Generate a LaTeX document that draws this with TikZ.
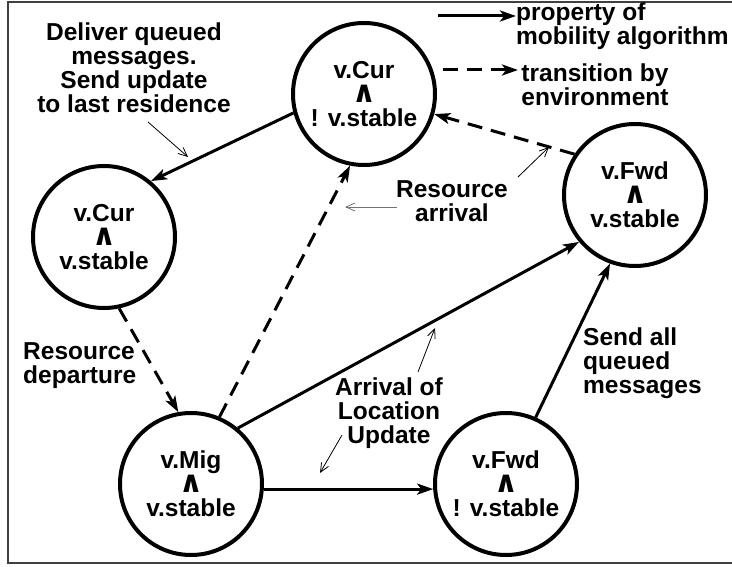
\documentclass[tikz,border=0pt]{standalone}
\usepackage{fontspec}
\setmainfont{Liberation Sans}
\newfontfamily\symfont{DejaVu Sans}
\usetikzlibrary{arrows.meta}
\newcommand\labfont{\bfseries\fontsize{24.5}{24}\selectfont}
\newcommand\andsym{{\symfont\bfseries\fontsize{30}{24}\selectfont ∧}}
\begin{document}
\begin{tikzpicture}[x=1pt,y=-1pt,
  every node/.style={font=\labfont, inner sep=0pt},
  state/.style={circle, draw, line width=4pt, minimum size=142pt, align=center},
  trans/.style={line width=3pt, -{Stealth[length=16pt,width=11pt,inset=4pt]}},
  envtrans/.style={trans, dash pattern=on 15pt off 9pt},
  note/.style={line width=0.8pt, -{Straight Barb[length=9pt,width=8pt]}},
  lblc/.style={align=center, anchor=base},
  lbll/.style={align=left, anchor=base west},
]
\useasboundingbox (0,0) rectangle (732,567);
\draw[line width=1.2pt, black!75] (732,2) -- (8,2) -- (8,563) -- (732,563);

% states
\node[state] (A) at (364,94) {v.Cur\\\andsym\\! v.stable};
\node[state] (B) at (104,237) {v.Cur\\\andsym\\v.stable};
\node[state] (C) at (635,195) {v.Fwd\\\andsym\\v.stable};
\node[state] (D) at (191,484) {v.Mig\\\andsym\\v.stable};
\node[state] (E) at (506,484) {v.Fwd\\\andsym\\! v.stable};

% transitions
\draw[trans] (A.195) -- (B.50);
\draw[envtrans] (B.282) -- (D.100);
\draw[envtrans] (D.67) -- (A.259);
\draw[envtrans] (C.146) -- (A.344);
\draw[trans] (D.50) -- (C.220);
\draw[trans] (D.-4) -- (E.184);
\draw[trans] (E.66) -- (C.250);

% labels (base anchor = last line's baseline)
\node[lblc] (deliver) at (134,113) {Deliver queued\\messages.\\Send update\\to last residence};
\node[lblc] (resarr) at (452,222) {Resource\\arrival};
\node[lbll] (resdep) at (23,383) {Resource\\departure};
\node[lblc] (arrloc) at (389,443) {Arrival of\\Location\\Update};
\node[lbll] (sendall) at (583,393) {Send all\\queued\\messages};

% legend
\node[lbll] (legprop) at (516,45) {property of\\mobility algorithm};
\node[lblc] (legenv) at (595,106) {transition by\\environment};
\coordinate (l1s) at (438,16);
\coordinate (l1e) at (516,16);
\coordinate (l2s) at (443,70);
\coordinate (l2e) at (518,70);
\draw[trans] (l1s) -- (l1e);
\draw[envtrans] (l2s) -- (l2e);

% annotation pointers
\coordinate (n1s) at (148,122); \coordinate (n1e) at (188,157);
\coordinate (n2s) at (518,177); \coordinate (n2e) at (549,147);
\coordinate (n3s) at (397,207); \coordinate (n3e) at (345,207);
\coordinate (n4s) at (418,372); \coordinate (n4e) at (435,328);
\coordinate (n5s) at (342,435); \coordinate (n5e) at (320,473);
\draw[note] (n1s) -- (n1e);
\draw[note] (n2s) -- (n2e);
\draw[note, black!55] (n3s) -- (n3e);
\draw[note] (n4s) -- (n4e);
\draw[note] (n5s) -- (n5e);
\end{tikzpicture}
\end{document}
